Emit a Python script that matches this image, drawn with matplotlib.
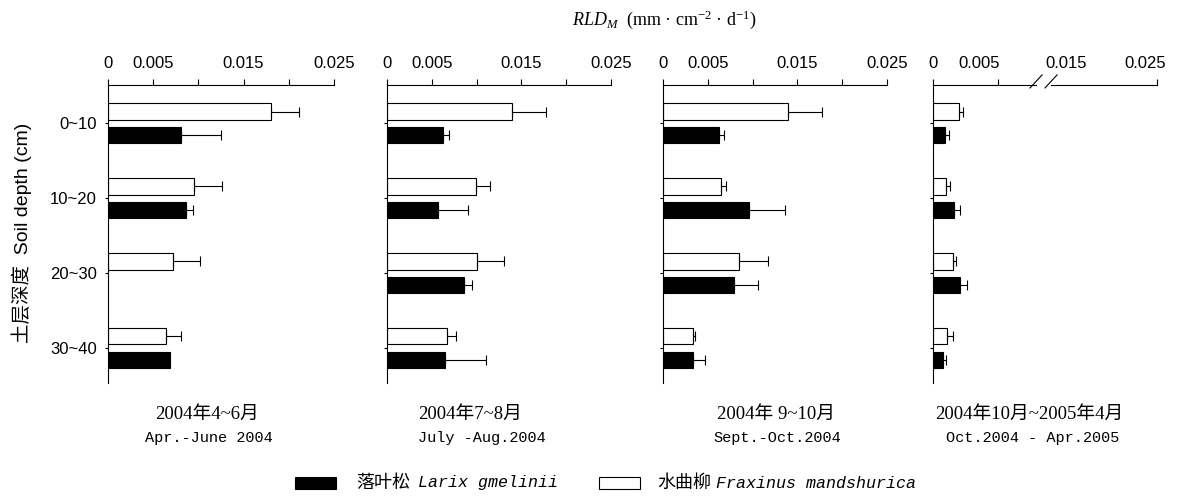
import numpy as np
import matplotlib
matplotlib.use("Agg")
import matplotlib.pyplot as plt
from matplotlib.patches import Rectangle

plt.rcParams['font.family'] = ['Liberation Sans', 'Noto Sans CJK SC']
plt.rcParams['mathtext.fontset'] = 'custom'
plt.rcParams['mathtext.rm'] = 'Liberation Serif'
plt.rcParams['mathtext.it'] = 'Liberation Serif:italic'

# --- data ---
depths = ["0~10", "10~20", "20~30", "30~40"]
periods_cn = ["2004年4~6月", "2004年7~8月", "2004年 9~10月", "2004年10月~2005年4月"]
periods_en = ["Apr.-June 2004", "July -Aug.2004", "Sept.-Oct.2004", "Oct.2004 - Apr.2005"]

# Larix gmelinii (black bars), one row per period, one value per depth
larix = [
    [0.0081, 0.0086, 0.0, 0.0069],
    [0.0062, 0.0057, 0.0086, 0.0065],
    [0.0062, 0.0096, 0.0079, 0.0033],
    [0.0009, 0.0016, 0.0021, 0.0008],
]
larix_err = [
    [0.0044, 0.0008, 0.0, 0.0],
    [0.0007, 0.0033, 0.0009, 0.0045],
    [0.0006, 0.0040, 0.0027, 0.0014],
    [0.0003, 0.0005, 0.0005, 0.0002],
]
# Fraxinus mandshurica (white bars)
frax = [
    [0.0180, 0.0095, 0.0072, 0.0064],
    [0.0140, 0.0099, 0.0101, 0.0067],
    [0.0139, 0.0065, 0.0085, 0.0033],
    [0.0020, 0.0010, 0.0015, 0.0011],
]
frax_err = [
    [0.0031, 0.0031, 0.0030, 0.0017],
    [0.0038, 0.0016, 0.0030, 0.0010],
    [0.0039, 0.0005, 0.0032, 0.0003],
    [0.0003, 0.0003, 0.0003, 0.0004],
]

W, H = 1196, 500
fig = plt.figure(figsize=(W / 100, H / 100), dpi=100)

ax_left = [108, 387, 663, 933]
ax_width = [226, 224, 224, 224]
ax_top, ax_bot = 85, 383
y = np.arange(len(depths))
bar_h = 0.22
lw = 0.8


def draw_bars(ax, vals, errs, off, color):
    vals = np.array(vals)
    errs = np.array(errs)
    keep = vals > 0
    ax.barh(y[keep] + off, vals[keep], height=bar_h, color=color,
            edgecolor='black', linewidth=lw)
    ke = errs > 0
    ax.errorbar(vals[ke], y[ke] + off, xerr=[np.zeros(ke.sum()), errs[ke]],
                fmt='none', ecolor='black', elinewidth=lw, capsize=3.5,
                capthick=lw)


for i in range(4):
    ax = fig.add_axes([ax_left[i] / W, 1 - ax_bot / H, ax_width[i] / W,
                       (ax_bot - ax_top) / H])
    draw_bars(ax, frax[i], frax_err[i], -0.155, 'white')
    draw_bars(ax, larix[i], larix_err[i], 0.16, 'black')

    ax.set_ylim(3.47, -0.51)
    ax.set_yticks(y)
    if i == 0:
        ax.set_yticklabels(depths, fontsize=12)
    else:
        ax.set_yticklabels([])
    ax.tick_params(axis='y', direction='out', length=2, width=lw, pad=6)

    for s in ['right', 'bottom']:
        ax.spines[s].set_visible(False)
    for s in ['left', 'top']:
        ax.spines[s].set_linewidth(lw)
    ax.xaxis.tick_top()
    ax.tick_params(axis='x', direction='out', length=4, width=lw,
                   labelsize=12, pad=6)

    if i < 3:
        ax.set_xlim(0, 0.025)
        ax.set_xticks([0, 0.005, 0.01, 0.015, 0.02, 0.025])
        ax.set_xticklabels(['0', '0.005', '', '0.015', '', '0.025'])
    else:
        # broken axis: only the 0-0.005 part is to scale
        xmax = 0.005 * ax_width[i] / 65
        ax.set_xlim(0, xmax)
        ax.set_xticks([0, 0.005, xmax])
        ax.set_xticklabels([])
        ax.spines['top'].set_visible(False)
        kw = dict(transform=ax.transAxes, color='black', lw=lw, clip_on=False)
        ax.plot([0, 0.46], [1, 1], **kw)
        ax.plot([0.525, 1], [1, 1], **kw)
        ax.plot([0.433, 0.487], [0.99, 1.034], **kw)
        ax.plot([0.50, 0.554], [0.99, 1.034], **kw)
        yl = 1 + (ax_top - 64) / (ax_bot - ax_top)
        for xf, lab in zip([0.0, 0.205, 0.594, 0.946],
                           ['0', '0.005', '0.015', '0.025']):
            ax.text(xf, yl, lab, transform=ax.transAxes, ha='center',
                    va='center', fontsize=12)

# captions under each panel
cap1_x = [207, 470, 776, 1029]
cap2_x = [209, 482, 777, 1033]
for i in range(4):
    fig.text(cap1_x[i] / W, 1 - 414 / H, periods_cn[i], ha='center',
             va='center', fontsize=13.5,
             family=['Liberation Serif', 'Noto Sans CJK SC'])
    fig.text(cap2_x[i] / W, 1 - 438 / H, periods_en[i], ha='center',
             va='center', fontsize=11, family='Liberation Mono')

# axis titles
fig.text(664 / W, 1 - 20 / H,
         r'$\mathit{RLD}_{\mathit{M}}$  (mm · cm$^{-2}$ · d$^{-1}$)',
         ha='center', va='center', fontsize=13, family='Liberation Serif')
fig.text(22 / W, 1 - 233 / H, '土层深度  Soil depth (cm)', rotation=90,
         ha='center', va='center', fontsize=14,
         family=['Liberation Sans', 'Noto Sans CJK SC'])

# legend
ly = 483
fig.patches.append(Rectangle((295 / W, 1 - (ly + 6) / H), 41 / W, 12 / H,
                             facecolor='black', edgecolor='black', lw=lw,
                             transform=fig.transFigure))
fig.patches.append(Rectangle((599 / W, 1 - (ly + 6) / H), 41 / W, 12 / H,
                             facecolor='white', edgecolor='black', lw=lw,
                             transform=fig.transFigure))
fig.text(356 / W, 1 - ly / H, '落叶松', va='center', fontsize=13,
         family='Noto Sans CJK SC')
fig.text(418 / W, 1 - ly / H, 'Larix gmelinii', va='center', fontsize=12,
         family='Liberation Mono', style='italic')
fig.text(657 / W, 1 - ly / H, '水曲柳', va='center', fontsize=13,
         family='Noto Sans CJK SC')
fig.text(716 / W, 1 - ly / H, 'Fraxinus mandshurica', va='center',
         fontsize=12, family='Liberation Mono', style='italic')

fig.savefig('out.png', dpi=100)
